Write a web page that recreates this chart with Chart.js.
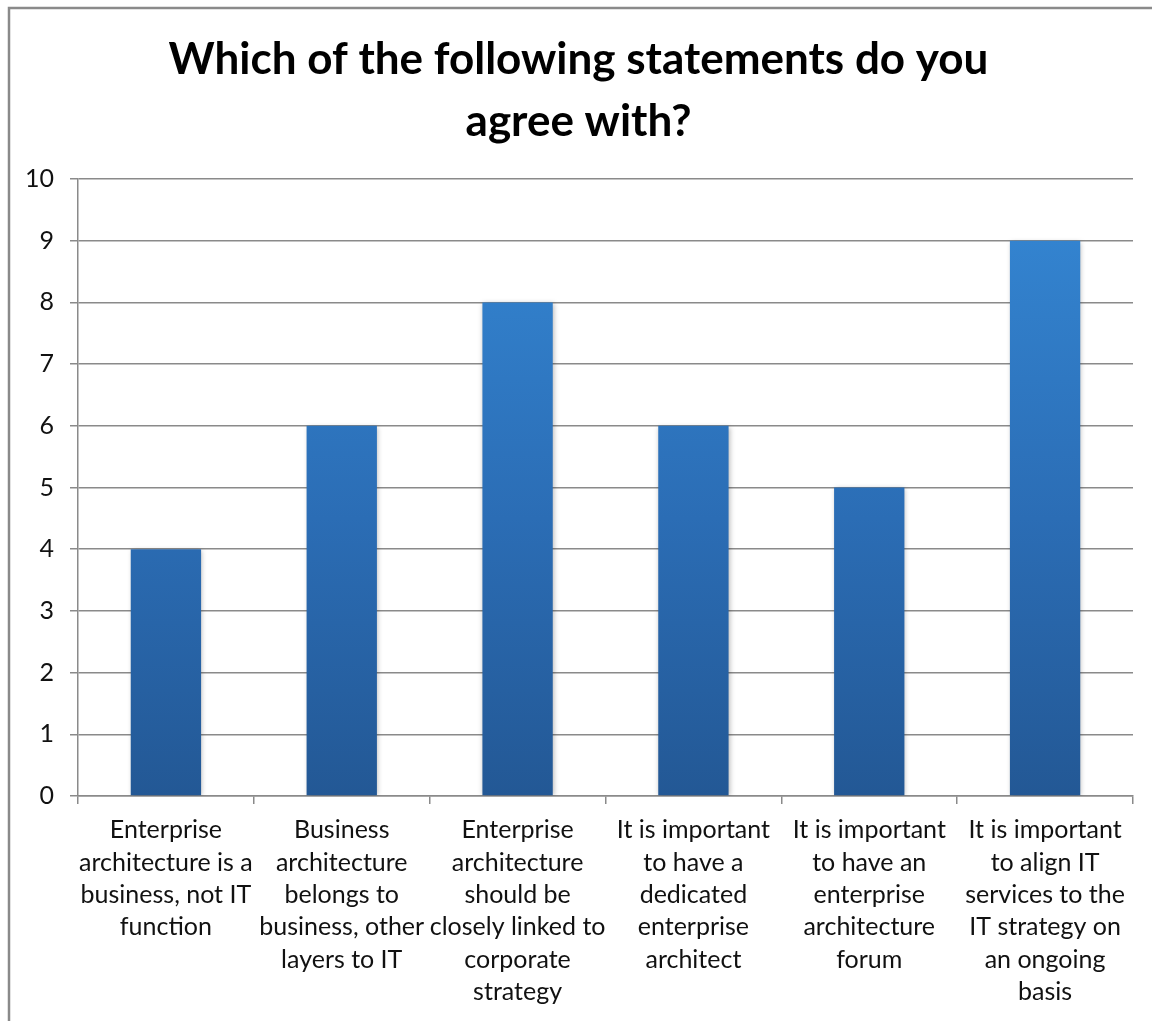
<!DOCTYPE html>
<html>
<head>
<meta charset="utf-8">
<title>Which of the following statements do you agree with?</title>
<script src="https://cdn.jsdelivr.net/npm/chart.js@4/dist/chart.umd.min.js"></script>
<style>
  html, body { margin: 0; padding: 0; background: #ffffff; }
  #wrap { width: 1152px; height: 1021px; position: relative; }
</style>
</head>
<body>
<div id="wrap"><canvas id="chart" width="1152" height="1021"></canvas></div>
<script>
// Survey question and statements (each statement pre-wrapped into lines)
const titleLines = ['Which of the following statements do you', 'agree with?'];

const categories = [
  ['Enterprise', 'architecture is a', 'business, not IT', 'function'],
  ['Business', 'architecture', 'belongs to', 'business, other', 'layers to IT'],
  ['Enterprise', 'architecture', 'should be', 'closely linked to', 'corporate', 'strategy'],
  ['It is important', 'to have a', 'dedicated', 'enterprise', 'architect'],
  ['It is important', 'to have an', 'enterprise', 'architecture', 'forum'],
  ['It is important', 'to align IT', 'services to the', 'IT strategy on', 'an ongoing', 'basis']
];

// Number of respondents agreeing with each statement
const agreeCounts = [4, 6, 8, 6, 5, 9];

// Value axis range
const yMin = 0;
const yMax = 10;
const yStep = 1;

const AXIS_GRAY = '#8a8a8a';
const LABEL_FONT = 'Lato, "Open Sans", "DejaVu Sans", sans-serif';

// Thin gray frame along the top and left edges of the chart box
const framePlugin = {
  id: 'frame',
  beforeDraw(chart) {
    const ctx = chart.ctx;
    ctx.save();
    ctx.fillStyle = '#ffffff';
    ctx.fillRect(0, 0, chart.width, chart.height);
    ctx.strokeStyle = AXIS_GRAY;
    ctx.lineWidth = 2.5;
    ctx.beginPath();
    ctx.moveTo(9, chart.height);
    ctx.lineTo(9, 8);
    ctx.lineTo(chart.width, 8);
    ctx.stroke();
    ctx.restore();
  }
};

// Each bar gets its own vertical gradient (light top, dark base) and a soft shadow
const barStylePlugin = {
  id: 'barStyle',
  beforeDatasetDraw(chart, args) {
    const ctx = chart.ctx;
    const meta = args.meta;
    meta.data.forEach(bar => {
      const g = ctx.createLinearGradient(0, bar.y, 0, bar.base);
      g.addColorStop(0, '#3383cf');
      g.addColorStop(0.5, '#2b6db5');
      g.addColorStop(1, '#235895');
      bar.options.backgroundColor = g;
    });
    ctx.save();
    ctx.shadowColor = 'rgba(0,0,0,0.28)';
    ctx.shadowBlur = 5;
    ctx.shadowOffsetX = 1;
    ctx.shadowOffsetY = 1;
  },
  afterDatasetDraw(chart) {
    chart.ctx.restore();
  }
};

new Chart(document.getElementById('chart'), {
  type: 'bar',
  data: {
    labels: categories,
    datasets: [{
      label: 'Responses',
      data: agreeCounts,
      backgroundColor: '#2b6db5',
      borderWidth: 0,
      categoryPercentage: 1.0,
      barPercentage: 0.4
    }]
  },
  options: {
    responsive: false,
    animation: false,
    devicePixelRatio: 1,
    layout: { padding: { left: 24, right: 19, top: 0, bottom: 0 } },
    plugins: {
      legend: { display: false },
      tooltip: { enabled: false },
      title: {
        display: true,
        text: titleLines,
        color: '#000000',
        font: { family: LABEL_FONT, weight: 'bold', size: 44, lineHeight: 1.409 },
        padding: { top: 29, bottom: 26 }
      }
    },
    scales: {
      x: {
        offset: true,
        grid: {
          display: true,
          offset: true,
          drawOnChartArea: false,
          drawTicks: true,
          tickLength: 8,
          color: AXIS_GRAY,
          lineWidth: 1.5
        },
        border: { display: true, color: AXIS_GRAY, width: 1.5 },
        ticks: {
          autoSkip: false,
          maxRotation: 0,
          minRotation: 0,
          padding: 10,
          color: '#111111',
          font: { family: LABEL_FONT, size: 25, lineHeight: 1.296 }
        },
        afterFit(scale) { scale.height = 225; }
      },
      y: {
        min: yMin,
        max: yMax,
        grid: {
          color: AXIS_GRAY,
          lineWidth: 1.5,
          drawTicks: true,
          tickLength: 8
        },
        border: { display: true, color: AXIS_GRAY, width: 1.5 },
        ticks: {
          stepSize: yStep,
          padding: 16,
          color: '#111111',
          font: { family: LABEL_FONT, size: 25 }
        },
        afterFit(scale) { scale.width = 54; }
      }
    }
  },
  plugins: [framePlugin, barStylePlugin]
});
</script>
</body>
</html>
